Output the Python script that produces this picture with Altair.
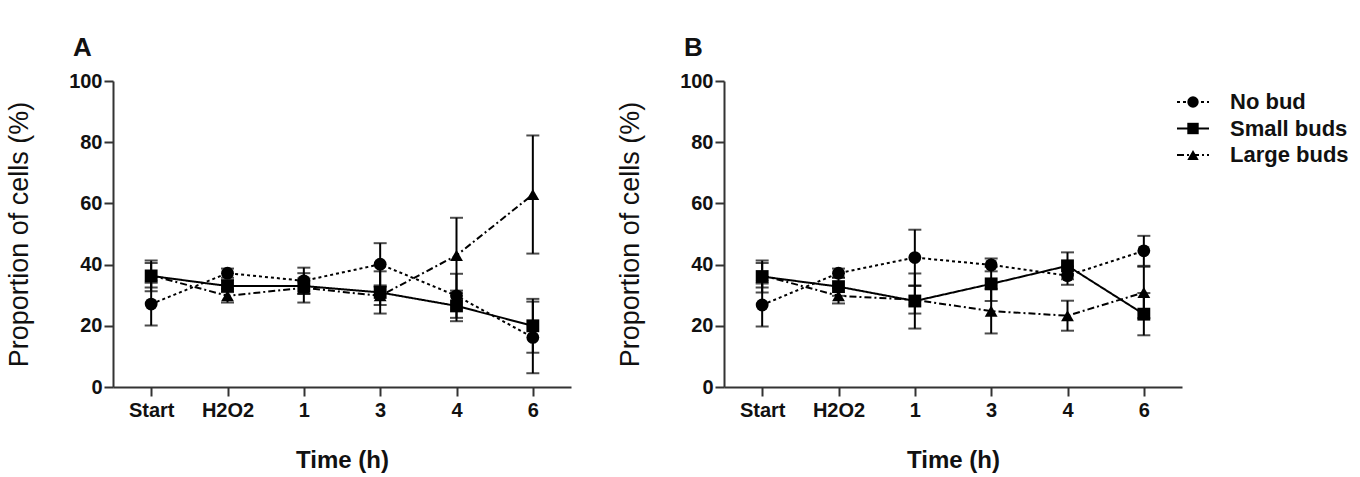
import altair as alt
import pandas as pd

FONT = "Liberation Sans"

# categories
TIMES = ["Start", "H2O2", "1", "3", "4", "6"]
SERIES = ["No bud", "Small buds", "Large buds"]
Y_TICKS = [0, 20, 40, 60, 80, 100]

# panel A: mean proportion (%) and error (±)
a_no_bud = [27.1, 37.2, 34.7, 40.1, 29.8, 16.2]
a_no_bud_err = [7.0, 1.5, 4.3, 6.9, 7.2, 11.7]
a_small = [36.3, 33.0, 33.0, 30.9, 26.5, 20.0]
a_small_err = [5.0, 2.0, 2.5, 6.9, 5.0, 8.8]
a_large = [36.5, 29.8, 32.4, 29.8, 43.0, 62.9]
a_large_err = [4.0, 2.2, 4.8, 3.0, 12.3, 19.3]

# panel B: mean proportion (%) and error (±)
b_no_bud = [26.8, 37.2, 42.3, 39.9, 36.4, 44.5]
b_no_bud_err = [7.0, 1.5, 9.1, 2.1, 3.0, 4.9]
b_small = [36.1, 32.8, 28.1, 33.7, 39.6, 23.8]
b_small_err = [5.2, 3.0, 9.0, 5.6, 4.4, 6.9]
b_large = [36.5, 29.8, 28.5, 24.8, 23.3, 30.9]
b_large_err = [4.0, 2.5, 4.5, 7.3, 4.9, 8.4]

PLOT_W = 458
PLOT_H = 306
Y_TITLE = "Proportion of cells (%)"

dash_scale = alt.Scale(domain=SERIES, range=[[3, 3], [1, 0], [7, 3, 2, 3]])
shape_scale = alt.Scale(domain=SERIES, range=["circle", "square", "triangle-up"])


def table(means, errs):
    rows = []
    for name, m_list, e_list in zip(SERIES, means, errs):
        for t, m, e in zip(TIMES, m_list, e_list):
            rows.append({"time": t, "series": name, "mean": m, "lo": m - e, "hi": m + e})
    return pd.DataFrame(rows)


def y_enc(field):
    return alt.Y(
        f"{field}:Q",
        scale=alt.Scale(domain=[0, 100], nice=False),
        axis=alt.Axis(values=Y_TICKS, title=Y_TITLE),
    )


def panel(df, letter):
    x = alt.X(
        "time:N",
        sort=TIMES,
        scale=alt.Scale(type="point", padding=0.5),
        axis=alt.Axis(title="Time (h)", labelAngle=0),
    )
    base = alt.Chart(df)
    lines = base.mark_line(color="black", strokeWidth=2).encode(
        x=x,
        y=y_enc("mean"),
        strokeDash=alt.StrokeDash("series:N", scale=dash_scale, legend=None),
    )
    bars = base.mark_rule(color="black", strokeWidth=2).encode(
        x=x, y=y_enc("lo"), y2="hi:Q"
    )
    cap_lo = base.mark_tick(orient="horizontal", size=13, thickness=2, color="black").encode(
        x=x, y=y_enc("lo")
    )
    cap_hi = base.mark_tick(orient="horizontal", size=13, thickness=2, color="black").encode(
        x=x, y=y_enc("hi")
    )
    pts = base.mark_point(filled=True, color="black", opacity=1, size=165).encode(
        x=x,
        y=y_enc("mean"),
        shape=alt.Shape("series:N", scale=shape_scale, legend=None),
    )
    return alt.layer(lines, bars, cap_lo, cap_hi, pts).properties(
        width=PLOT_W,
        height=PLOT_H,
        title=alt.TitleParams(
            letter,
            anchor="start",
            frame="group",
            dx=-40,
            fontSize=26,
            fontWeight="bold",
            font=FONT,
            color="#111111",
            offset=10,
        ),
    )


def legend_layer():
    leg = alt.Chart(pd.DataFrame({"series": SERIES}))
    leg_y = alt.Y(
        "series:N",
        sort=SERIES,
        scale=alt.Scale(type="point", range=[21, 74], padding=0),
        axis=None,
    )
    seg = leg.mark_rule(color="black", strokeWidth=2).encode(
        x=alt.value(453),
        x2=alt.value(485),
        y=leg_y,
        strokeDash=alt.StrokeDash("series:N", scale=dash_scale, legend=None),
    )
    sym = leg.mark_point(filled=True, color="black", opacity=1, size=130).encode(
        x=alt.value(469),
        y=leg_y,
        shape=alt.Shape("series:N", scale=shape_scale, legend=None),
    )
    txt = leg.mark_text(
        align="left", baseline="middle", font=FONT, fontSize=22, fontWeight="bold", color="#111111"
    ).encode(x=alt.value(506), y=leg_y, text="series:N")
    return alt.layer(seg, sym, txt)


panel_a = panel(table([a_no_bud, a_small, a_large], [a_no_bud_err, a_small_err, a_large_err]), "A")
panel_b_main = panel(table([b_no_bud, b_small, b_large], [b_no_bud_err, b_small_err, b_large_err]), "B")
panel_b = alt.layer(panel_b_main, legend_layer()).resolve_scale(y="independent")

chart = (
    alt.hconcat(panel_a, panel_b, spacing=45)
    .properties(padding={"left": 5, "top": 35, "right": 5, "bottom": 5})
    .configure_view(stroke=None)
    .configure_axis(
        domainColor="#333333",
        domainWidth=2,
        tickColor="#333333",
        tickWidth=2,
        tickSize=9,
        grid=False,
        labelFont=FONT,
        labelFontWeight="bold",
        labelColor="#111111",
        titleFont=FONT,
        titleColor="#111111",
    )
    .configure_axisY(labelFontSize=20, labelPadding=2, titleFontSize=27, titleFontWeight="normal", titlePadding=35)
    .configure_axisX(labelFontSize=20, labelPadding=4, titleFontSize=24, titleFontWeight="bold", titlePadding=28)
)

chart.save("out.html", embed_options={"renderer": "svg", "actions": False})
